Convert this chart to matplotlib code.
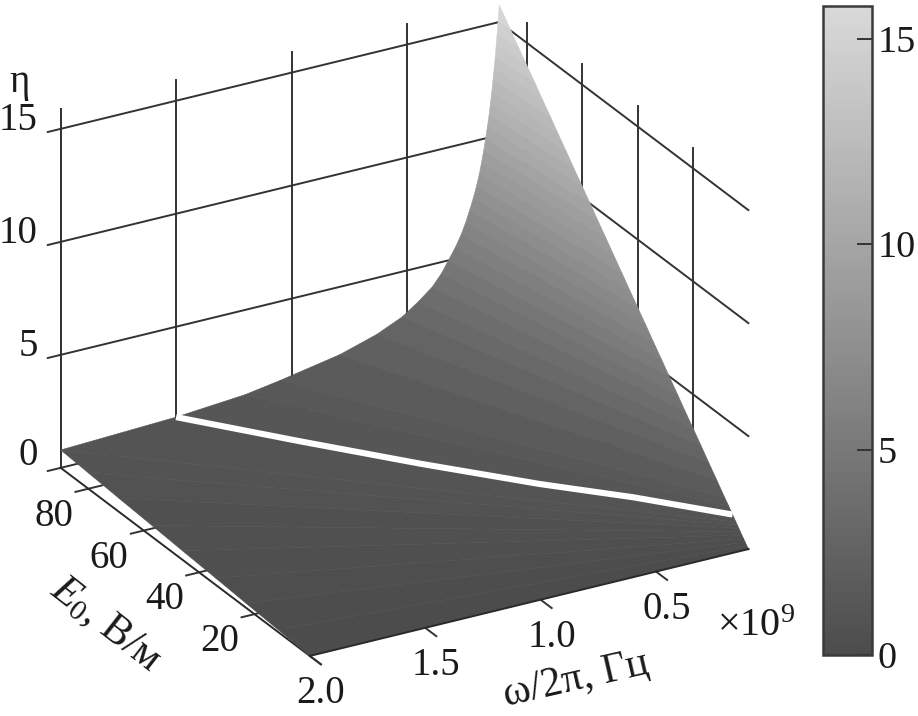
import numpy as np
import matplotlib
matplotlib.use('Agg')
import matplotlib.pyplot as plt
from matplotlib.cm import ScalarMappable
from matplotlib.colors import LinearSegmentedColormap, Normalize
from mpl_toolkits.mplot3d import proj3d

plt.rcParams['font.family'] = ['Liberation Serif', 'DejaVu Serif']
plt.rcParams['mathtext.fontset'] = 'custom'
plt.rcParams['mathtext.rm'] = 'Liberation Serif'
plt.rcParams['mathtext.it'] = 'Liberation Serif:italic'

omega_ticks = [2.0, 1.5, 1.0, 0.5]
omega_labels = ['2.0', '1.5', '1.0', '0.5']
e_ticks = [20, 40, 60, 80]
e_labels = ['20', '40', '60', '80']
eta_ticks = [0, 5, 10, 15]
eta_labels = ['0', '5', '10', '15']

omega_min = 0.1
omega_max = 2.0
e_max = 90
eta_top = 15.9

# surface read as lines of constant eta: each one runs from the omega_min wall
# (at e_near) to the outer edge of the surface (at omega_far, e_far)
eta_levels = [0, 0.1, 0.2, 0.3, 0.4, 0.5, 0.6, 0.7, 0.79, 1.0, 1.25, 1.5, 2.0, 2.5, 3.0, 3.5, 4.0, 4.5,
              5.0, 5.5, 6.0, 6.5, 7.0, 7.5, 8.0, 8.5, 9.0, 9.5, 10.0, 10.5, 11.0, 11.5, 12.0, 12.5,
              13.0, 13.5, 14.0, 14.5, 15.0, 15.75]
e_near = [0, 0.6, 1.1, 1.7, 2.3, 2.9, 3.4, 4.0, 4.5, 5.7, 7.1, 8.6, 11.4, 14.3, 17.1, 20.0, 22.9, 25.7,
          28.6, 31.4, 34.3, 37.1, 40.0, 42.9, 45.7, 48.6, 51.4, 54.3, 57.1, 60.0, 62.9, 65.7, 68.6, 71.4,
          74.3, 77.1, 80.0, 82.9, 85.7, 90.0]
omega_far = [2.0, 2.0, 2.0, 2.0, 2.0, 2.0, 2.0, 2.0, 2.0, 1.5, 1.2, 1.05, 0.79, 0.63, 0.52, 0.45, 0.39, 0.35,
             0.32, 0.29, 0.265, 0.245, 0.228, 0.212, 0.198, 0.186, 0.176, 0.167, 0.159, 0.151, 0.144, 0.138,
             0.132, 0.127, 0.122, 0.117, 0.113, 0.109, 0.105, 0.1]
e_far = [0, 11.4, 23, 34, 46, 57, 69, 80, 90, 90, 90, 90, 90, 90, 90, 90, 90, 90,
         90, 90, 90, 90, 90, 90, 90, 90, 90, 90, 90, 90, 90, 90, 90, 90,
         90, 90, 90, 90, 90, 90]

# the white line on the surface
line_omega = [1.5, 1.2, 0.9, 0.6, 0.35, 0.1]
line_e = [90, 70.4, 51.5, 33.8, 20.7, 5.7]
line_eta = [1, 1, 1, 1, 1, 1]

grid_color = '#333333'
text_color = '#1a1a1a'
font_size = 28
cmap = LinearSegmentedColormap.from_list('reduced_gray', ['#4c4c4c', '#d9d9d9'])
norm = Normalize(0, 15.8)

fig = plt.figure(figsize=(9.18, 7.16), dpi=100)
ax = fig.add_axes([-3.2 / 918, -19.4 / 716, 794 / 918, 794 / 716], projection='3d',
                  computed_zorder=False)
ax.set_proj_type('ortho')
ax.view_init(elev=25.4, azim=-119.6)
ax.set_box_aspect((504, 504, 400))
ax.set_xlim(omega_max, omega_min)
ax.set_ylim(0, e_max)
ax.set_zlim(0, 16)
ax.set_xticks([])
ax.set_yticks([])
ax.set_zticks([])
ax.set_axis_off()
ax.patch.set_alpha(0)


def label_at(w, e, z, s, ha='center'):
    # put a flat label where the data point (w, e, z) lands in the view
    px, py, _ = proj3d.proj_transform(w, e, z, ax.get_proj())
    ax.text2D(px, py, s, transform=ax.transData, fontsize=font_size, ha=ha, va='center',
              color=text_color, clip_on=False)


# walls
for z in eta_ticks:
    ax.plot([omega_max, omega_min], [e_max, e_max], [z, z], color=grid_color, lw=1.4, zorder=1)
    ax.plot([omega_min, omega_min], [e_max, 0], [z, z], color=grid_color, lw=1.4, zorder=1)
    ax.plot([omega_max, omega_max + 0.056], [e_max, e_max], [z, z], color=grid_color, lw=1.4, zorder=1)
ax.plot([omega_max, omega_max], [e_max, e_max], [0, eta_top], color=grid_color, lw=1.4, zorder=1)
for w in omega_ticks:
    ax.plot([w, w], [e_max, e_max], [0, eta_top], color=grid_color, lw=1.4, zorder=1)
    ax.plot([w, w], [0, -4], [0, 0], color=grid_color, lw=1.4, zorder=3)
for e in e_ticks:
    ax.plot([omega_min, omega_min], [e, e], [0, eta_top], color=grid_color, lw=1.4, zorder=1)
    ax.plot([omega_max - 0.06, omega_max + 0.056], [e, e], [0, 0], color=grid_color, lw=1.4, zorder=1)

# floor edge behind the surface
ax.plot([omega_max, omega_max], [e_max, -4], [0, 0], color='#2a2a2a', lw=1.4, zorder=1.5)

# surface, one band between each pair of eta levels
n = len(eta_levels)
X = np.column_stack([np.full(n, omega_min), omega_far])
Y = np.column_stack([e_near, e_far])
Z = np.column_stack([eta_levels, eta_levels])
mid = (np.array(eta_levels[:-1]) + np.array(eta_levels[1:])) / 2
band_colors = cmap(norm(mid))[:, None, :]
ax.plot_surface(X, Y, Z, rstride=1, cstride=1, facecolors=band_colors, shade=False,
                linewidth=0.4, antialiased=True, zorder=2)

ax.plot(line_omega, line_e, line_eta, color='white', lw=4.4, solid_capstyle='butt', zorder=3)
ax.plot([omega_max, omega_min], [0, 0], [0, 0], color='#2a2a2a', lw=1.4, zorder=3)

for w, lab in zip(omega_ticks, omega_labels):
    label_at(w, -4, -1.3, lab)
for e, lab in zip(e_ticks, e_labels):
    label_at(omega_max + 0.15, e, -0.85, lab)
for z, lab in zip(eta_ticks, eta_labels):
    label_at(omega_max + 0.1, e_max, z + (0.8 if z == 0 else 0.6), lab, ha='right')
label_at(omega_max + 0.18, e_max, 17.5, 'η')

fig.text(106 / 918, 1 - 624 / 716, r'$E_0$, В/м', fontsize=30, rotation=-38, ha='center', va='center',
         rotation_mode='anchor', color=text_color)
fig.text(576 / 918, 1 - 680 / 716, 'ω/2π, Гц', fontsize=30, rotation=13, ha='center', va='center',
         rotation_mode='anchor', color=text_color)
fig.text(756 / 918, 1 - 627 / 716, r'×10$^9$', fontsize=29, ha='center', va='center', color=text_color)

# colorbar
cax = fig.add_axes([823 / 918, 1 - 655 / 716, 49 / 918, 649 / 716])
cb = fig.colorbar(ScalarMappable(norm=norm, cmap=cmap), cax=cax)
cb.set_ticks(eta_ticks)
cb.set_ticklabels(eta_labels)
cb.ax.tick_params(direction='in', length=10.5, width=1.4, color='#333333', labelsize=27.5, pad=4,
                  labelcolor=text_color)
cb.outline.set_edgecolor('#3a3a3a')
cb.outline.set_linewidth(1.8)

fig.savefig('out.png', dpi=100)
